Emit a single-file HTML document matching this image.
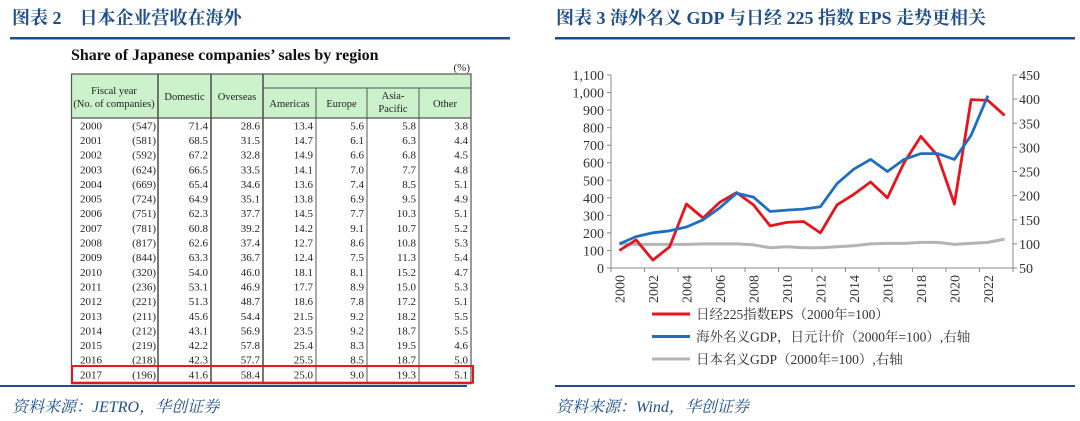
<!DOCTYPE html>
<html><head><meta charset="utf-8">
<style>
html,body{margin:0;padding:0;background:#fff;}
svg{display:block;}
.t{font-family:"Liberation Serif","Noto Serif CJK SC",serif;}
.h{font-family:"Liberation Serif","Noto Serif CJK SC",serif;font-weight:bold;fill:#1f4e8c;font-size:18px;}
.cell{font-family:"Liberation Serif",serif;font-size:11px;fill:#222;}
.hc{font-family:"Liberation Serif",serif;font-size:10.5px;fill:#222;}
.ax{font-family:"Liberation Serif",serif;font-size:14px;fill:#333;}
.lg{font-family:"Liberation Serif","Noto Serif CJK SC",serif;font-size:13.5px;fill:#333;}
.src{font-family:"Liberation Serif","Noto Serif CJK SC",serif;font-style:italic;font-size:16px;fill:#1f4e8c;}
</style></head>
<body>
<svg id="root" width="1080" height="421" viewBox="0 0 1080 421" xmlns="http://www.w3.org/2000/svg">
  <text class="h" x="12" y="24">图表 2　日本企业营收在海外</text>
  <rect x="10" y="37" width="500" height="2.5" fill="#1f4e8c"/>
  <text class="h" x="556" y="24">图表 3 海外名义 GDP 与日经 225 指数 EPS 走势更相关</text>
  <rect x="555" y="37" width="520" height="2.5" fill="#1f4e8c"/>

  <text class="t" x="71" y="60" font-size="16" font-weight="bold" fill="#111">Share of Japanese companies’ sales by region</text>
  <text class="cell" x="470" y="71" text-anchor="end">(%)</text>
  <g id="table"></g>

  <rect x="0" y="385" width="467" height="2" fill="#1f4e8c"/>
  <text class="src" x="12" y="412">资料来源：JETRO，华创证券</text>
  <rect x="555" y="385" width="520" height="2" fill="#1f4e8c"/>
  <text class="src" x="556" y="412">资料来源：Wind，华创证券</text>

  <g id="chart"></g>
</svg>
<script>
const NS="http://www.w3.org/2000/svg";
// ---------- table data ----------
const tableYears=[2000,2001,2002,2003,2004,2005,2006,2007,2008,2009,2010,2011,2012,2013,2014,2015,2016,2017];
const tableCounts=[547,581,592,624,669,724,751,781,817,844,320,236,221,211,212,219,218,196];
const domestic=["71.4","68.5","67.2","66.5","65.4","64.9","62.3","60.8","62.6","63.3","54.0","53.1","51.3","45.6","43.1","42.2","42.3","41.6"];
const overseas=["28.6","31.5","32.8","33.5","34.6","35.1","37.7","39.2","37.4","36.7","46.0","46.9","48.7","54.4","56.9","57.8","57.7","58.4"];
const americas=["13.4","14.7","14.9","14.1","13.6","13.8","14.5","14.2","12.7","12.4","18.1","17.7","18.6","21.5","23.5","25.4","25.5","25.0"];
const europe=["5.6","6.1","6.6","7.0","7.4","6.9","7.7","9.1","8.6","7.5","8.1","8.9","7.8","9.2","9.2","8.3","8.5","9.0"];
const asiaPacific=["5.8","6.3","6.8","7.7","8.5","9.5","10.3","10.7","10.8","11.3","15.2","15.0","17.2","18.2","18.7","19.5","18.7","19.3"];
const other=["3.8","4.4","4.5","4.8","5.1","4.9","5.1","5.2","5.3","5.4","4.7","5.3","5.1","5.5","5.5","4.6","5.0","5.1"];

function mk(tag,attrs,parent){const e=document.createElementNS(NS,tag);for(const k in attrs)e.setAttribute(k,attrs[k]);parent.appendChild(e);return e;}

const tb=document.getElementById('table');
const colX=[71.5,158,211,263,316,367,419,471];
const tTop=74,tSub=88,tHead=118,rowH=14.65;
const tBot=tHead+rowH*tableYears.length+2;
let e;
e=mk('rect',{x:colX[0],y:tTop,width:colX[7]-colX[0],height:tHead-tTop,fill:'#ccf2cc'},tb);


e=mk('rect',{x:colX[0],y:tTop,width:colX[7]-colX[0],height:tBot-tTop,fill:'none',stroke:'#555','stroke-width':1.2},tb);


mk('line',{x1:colX[0],x2:colX[7],y1:tHead,y2:tHead,stroke:'#555','stroke-width':1.2},tb);
mk('line',{x1:colX[3],x2:colX[7],y1:tSub,y2:tSub,stroke:'#555','stroke-width':1},tb);
for(let i=1;i<7;i++){const y1=i>=4?tSub:tTop;mk('line',{x1:colX[i],x2:colX[i],y1:y1,y2:tBot,stroke:'#555','stroke-width':i<=3?1.6:1},tb);}
function txt(s,x,y,anchor,parent,name,cls){const t=mk('text',{x:x,y:y,'text-anchor':anchor,class:cls||'cell'},parent);t.textContent=s;return t;}
txt('Fiscal year',114,94,'middle',tb,'header-fiscal-year','hc');
txt('(No. of companies)',114,107,'middle',tb,'header-no-companies','hc');
txt('Domestic',184.5,100,'middle',tb,'header-domestic','hc');
txt('Overseas',237,100,'middle',tb,'header-overseas','hc');
txt('Americas',289.5,107,'middle',tb,'header-americas','hc');
txt('Europe',341.5,107,'middle',tb,'header-europe','hc');
txt('Asia-',393,99,'middle',tb,'header-asia','hc');
txt('Pacific',393,112,'middle',tb,'header-pacific','hc');
txt('Other',445,107,'middle',tb,'header-other','hc');
tableYears.forEach((yr,i)=>{
  const y=tHead+rowH*(i+0.5)+4;
  txt(String(yr),80,y,'start',tb,'cell-year');
  txt('('+tableCounts[i]+')',156,y,'end',tb,'cell-count');
  txt(domestic[i],colX[2]-3,y,'end',tb,'cell-domestic');
  txt(overseas[i],colX[3]-3,y,'end',tb,'cell-overseas');
  txt(americas[i],colX[4]-3,y,'end',tb,'cell-americas');
  txt(europe[i],colX[5]-3,y,'end',tb,'cell-europe');
  txt(asiaPacific[i],colX[6]-3,y,'end',tb,'cell-asia-pacific');
  txt(other[i],colX[7]-3,y,'end',tb,'cell-other');
});
const last=tableYears.length-1;
e=mk('rect',{x:72,y:tHead+rowH*last-1,width:401,height:rowH+2,fill:'none',stroke:'#e8141b','stroke-width':2},tb);



// ---------- chart data ----------
const years=[2000,2001,2002,2003,2004,2005,2006,2007,2008,2009,2010,2011,2012,2013,2014,2015,2016,2017,2018,2019,2020,2021,2022,2023];
const epsValues=[100,160,45,120,365,285,375,430,360,240,260,265,200,360,420,490,400,600,750,640,365,960,955,870];
const overseasGdp=[100,115,123,127,135,150,175,205,197,167,170,172,177,225,255,275,250,275,287,287,275,325,407];
const japanGdp=[100,99,99,99,99,100,100,100,98,92,94,92,92,94,96,100,101,101,103,103,99,101,103,110];
const leftTicks=[0,100,200,300,400,500,600,700,800,900,1000,1100];
const rightTicks=[50,100,150,200,250,300,350,400,450];
const xTickLabels=[2000,2002,2004,2006,2008,2010,2012,2014,2016,2018,2020,2022];

const ch=document.getElementById('chart');
const X0=611,X1=1013,Y0=268,Y1=75;
const band=(X1-X0)/years.length;
const xPos=i=>X0+band*(i+0.5);
const yL=v=>Y0-(v-0)/(1100-0)*(Y0-Y1);
const yR=v=>Y0-(v-50)/(450-50)*(Y0-Y1);
mk('line',{x1:X0,x2:X0,y1:Y1,y2:Y0,stroke:'#888'},ch);
mk('line',{x1:X1,x2:X1,y1:Y1,y2:Y0,stroke:'#888'},ch);
mk('line',{x1:X0,x2:X1,y1:Y0,y2:Y0,stroke:'#888'},ch);
leftTicks.forEach(v=>{
  const y=yL(v);
  mk('line',{x1:X0-4,x2:X0,y1:y,y2:y,stroke:'#888'},ch);
  const t=mk('text',{x:X0-7,y:y+5,'text-anchor':'end',class:'ax'},ch);
  t.textContent=v.toLocaleString('en-US');
  
  
});
rightTicks.forEach(v=>{
  const y=yR(v);
  mk('line',{x1:X1,x2:X1+4,y1:y,y2:y,stroke:'#888'},ch);
  const t=mk('text',{x:X1+6,y:y+5,'text-anchor':'start',class:'ax'},ch);
  t.textContent=String(v);
  
  
});
years.forEach((yr,i)=>{
  if(i%2===0){mk('line',{x1:X0+band*i,x2:X0+band*i,y1:Y0,y2:Y0+4,stroke:'#888'},ch);}
});
mk('line',{x1:X1,x2:X1,y1:Y0,y2:Y0+4,stroke:'#888'},ch);
xTickLabels.forEach(yr=>{
  const i=years.indexOf(yr);const x=xPos(i)+5;
  const t=mk('text',{x:x,y:Y0+7,'text-anchor':'end',class:'ax',transform:`rotate(-90 ${x} ${Y0+7})`},ch);
  t.textContent=String(yr);
  
  
});
function line(vals,yf,color,w,name){
  const d=vals.map((v,i)=>(i?'L':'M')+xPos(i).toFixed(1)+','+yf(v).toFixed(1)).join(' ');
  const p=mk('path',{d:d,fill:'none',stroke:color,'stroke-width':w,'stroke-linejoin':'round'},ch);
  
  
}
line(japanGdp,yR,'#b4b4b4',3,'japan-gdp-line');
line(epsValues,yL,'#e8141b',2.8,'nikkei-eps-line');
line(overseasGdp,yR,'#1f6ec0',2.8,'overseas-gdp-line');

const legend=[['#e8141b','日经225指数EPS（2000年=100）'],['#1f6ec0','海外名义GDP，日元计价（2000年=100）,右轴'],['#b4b4b4','日本名义GDP（2000年=100）,右轴']];
legend.forEach((l,i)=>{
  const y=314+i*22.5;
  const g=mk('g',{},ch);
  
  
  mk('line',{x1:652,x2:690,y1:y,y2:y,stroke:l[0],'stroke-width':3},g);
  const t=mk('text',{x:696,y:y+5,class:'lg'},g);
  t.textContent=l[1];
});
</script>
</body></html>
